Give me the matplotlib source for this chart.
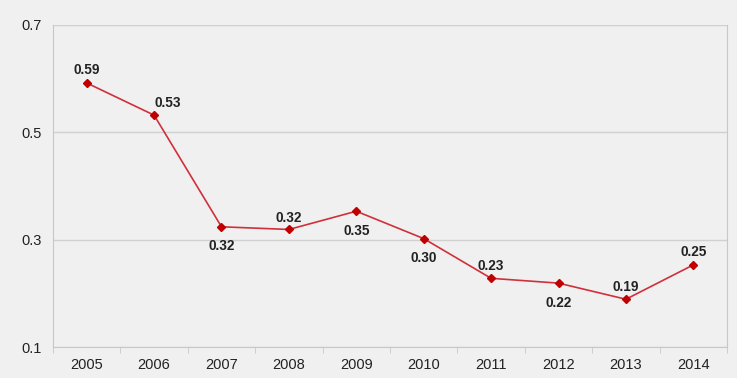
import numpy as np
import matplotlib.pyplot as plt
from matplotlib.patches import Rectangle

years = ['2005', '2006', '2007', '2008', '2009', '2010', '2011', '2012', '2013', '2014']
values = [0.592, 0.532, 0.324, 0.319, 0.353, 0.302, 0.228, 0.219, 0.189, 0.253]
labels = ['0.59', '0.53', '0.32', '0.32', '0.35', '0.30', '0.23', '0.22', '0.19', '0.25']
# label offsets (points) relative to each point
offsets = [(0, 9), (10, 9), (0, -14), (0, 8), (0, -14), (0, -14), (0, 9), (0, -14), (0, 9), (0, 9)]

plt.rcParams['font.family'] = ['Liberation Sans', 'DejaVu Sans']
bg = '#f0f0f0'

fig = plt.figure(figsize=(7.43, 3.82), dpi=100, facecolor='white')
fig.patches.append(Rectangle((0, 0.01), 0.992, 0.99, transform=fig.transFigure,
                             facecolor=bg, edgecolor='none', zorder=-10))
ax = fig.add_axes([0.0713, 0.0916, 0.9072, 0.843])
ax.set_facecolor(bg)

x = np.arange(len(years))
ax.plot(x, values, color='#d0303a', lw=1.2, marker='D', markersize=4.5,
        markerfacecolor='#c00000', markeredgecolor='#c00000', zorder=3)

for xi, v, lab, (dx, dy) in zip(x, values, labels, offsets):
    ax.annotate(lab, (xi, v), xytext=(dx, dy), textcoords='offset points',
                ha='center', va='center', fontsize=9.8, fontweight='bold', color='#222222')

ax.set_xlim(-0.5, len(years) - 0.5)
ax.set_ylim(0.1, 0.7)
ax.set_yticks([0.1, 0.3, 0.5, 0.7])
ax.set_yticklabels(['0.1', '0.3', '0.5', '0.7'])
ax.set_xticks(x)
ax.set_xticklabels(years)
ax.set_xticks(np.arange(-0.5, len(years)), minor=True)
ax.tick_params(axis='x', which='major', length=0, pad=8, labelsize=10.5, colors='#222222')
ax.tick_params(axis='x', which='minor', length=4, color='#c8c8c8')
ax.tick_params(axis='y', length=0, pad=8, labelsize=10.5, colors='#222222')
ax.grid(axis='y', color='#d0d0d0', lw=1)
ax.set_axisbelow(True)
for s in ['left', 'bottom', 'right']:
    ax.spines[s].set_color('#c8c8c8')
ax.spines['top'].set_visible(False)

fig.savefig('out.png', dpi=100, facecolor=fig.get_facecolor())
